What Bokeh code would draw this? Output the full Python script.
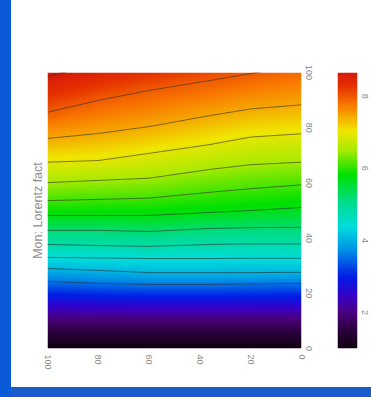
import numpy as np
from bokeh.plotting import figure
from bokeh.layouts import row, column
from bokeh.models import (Range1d, LinearAxis, FixedTicker, LinearColorMapper, Title)
from bokeh.embed import file_html
from bokeh.resources import INLINE

# ---- data ----
title_text = "Mon: Lorentz fact"
levels = [3.57, 4.06, 4.43, 4.80, 5.23, 5.73, 6.09, 6.48, 6.96, 7.44, 7.96, 8.62]
# bottom-axis values of the columns where the contour heights were read
column_x = [100, 80, 60, 36, 20, 0]
# height (right-axis value) of every contour level at each column
h_x100 = [24.3, 29.0, 33.0, 37.7, 42.8, 48.2, 53.6, 60.1, 67.5, 76.1, 85.6, 98.6]
h_x80 = [23.6, 28.3, 32.8, 37.3, 42.8, 48.2, 54.0, 60.9, 68.1, 77.9, 89.9, 103.0]
h_x60 = [23.2, 27.5, 32.6, 37.0, 42.4, 48.2, 54.5, 61.7, 70.7, 80.4, 93.5, 107.0]
h_x36 = [23.2, 27.5, 32.6, 37.7, 43.5, 49.3, 56.6, 64.9, 73.9, 84.4, 97.1, 111.0]
h_x20 = [23.4, 27.5, 32.7, 37.9, 43.8, 50.0, 57.9, 66.6, 76.6, 86.8, 99.6, 114.0]
h_x0 = [23.6, 27.6, 32.7, 37.9, 43.9, 51.1, 59.3, 67.5, 77.8, 88.3, 102.9, 118.0]
# values in the dark band below the lowest contour
bottom_h = [0.0, 10.0]
bottom_v = [1.0, 1.9]
# axis ticks / labels
tick_pos = [0, 20, 40, 60, 80, 100]
bottom_labels = ["100", "80", "60", "40", "20", "0"]   # left-to-right
right_labels = ["0", "20", "40", "60", "80", "100"]    # bottom-to-top
cbar_ticks = [2, 4, 6, 8]
cbar_low, cbar_high = 1.0, 8.66

# ---- palette (rainbow, sampled from the colour bar) ----
anch_f = [0.00, 0.07, 0.13, 0.19, 0.26, 0.36, 0.44, 0.53, 0.63, 0.72, 0.79, 0.88, 0.95, 1.00]
anch_r = [15, 45, 75, 55, 0, 0, 0, 0, 0, 170, 240, 250, 230, 215]
anch_g = [0, 0, 0, 0, 30, 150, 220, 220, 225, 235, 230, 125, 50, 25]
anch_b = [15, 65, 130, 200, 230, 230, 220, 140, 0, 0, 0, 0, 0, 10]
ff = np.linspace(0, 1, 256)
palette = ["#%02x%02x%02x" % (int(np.interp(f, anch_f, anch_r)),
                              int(np.interp(f, anch_f, anch_g)),
                              int(np.interp(f, anch_f, anch_b))) for f in ff]

# ---- field grid built from the contour table ----
table = np.array([h_x100, h_x80, h_x60, h_x36, h_x20, h_x0])
cx = np.array(column_x, dtype=float)
order = np.argsort(cx)
nx, ny = 254, 276
us = np.linspace(0, 100, nx)          # screen-left-to-right coordinate
hs = np.linspace(0, 100, ny)
z = np.empty((ny, nx))
for j, u in enumerate(us):
    xv = 100 - u
    hc = [np.interp(xv, cx[order], table[order, k]) for k in range(len(levels))]
    z[:, j] = np.interp(hs, bottom_h + hc, bottom_v + levels)

mapper = LinearColorMapper(palette=palette, low=cbar_low, high=cbar_high)

lab_font = "Liberation Sans"
lab_col = "#8a8a8a"


def style_axis(ax, standoff):
    ax.axis_line_color = None
    ax.major_tick_line_color = None
    ax.minor_tick_line_color = None
    ax.major_label_orientation = "vertical"
    ax.major_label_text_font = lab_font
    ax.major_label_text_font_size = "9px"
    ax.major_label_text_color = lab_col
    ax.major_label_standoff = standoff


p = figure(frame_width=254, frame_height=276, output_backend="svg",
           toolbar_location=None, x_range=Range1d(0, 100), y_range=Range1d(0, 100),
           x_axis_location=None, y_axis_location=None,
           min_border_left=36, min_border_top=72, min_border_bottom=39,
           min_border_right=36)
p.grid.visible = False
p.outline_line_color = None
p.border_fill_color = "white"

p.image(image=[z], x=0, y=0, dw=100, dh=100, color_mapper=mapper)

line_xs = [[100 - x for x in column_x] for _ in levels]
line_ys = [list(col) for col in table.T]
p.multi_line(xs=line_xs, ys=line_ys, line_color="#303030", line_alpha=0.6, line_width=1)

xb = LinearAxis(ticker=FixedTicker(ticks=tick_pos),
                major_label_overrides={t: l for t, l in zip(tick_pos, bottom_labels)})
yr = LinearAxis(ticker=FixedTicker(ticks=tick_pos),
                major_label_overrides={t: l for t, l in zip(tick_pos, right_labels)})
style_axis(xb, 0)
style_axis(yr, -2)
p.add_layout(xb, "below")
p.add_layout(yr, "right")

t = Title(text=title_text, align="center", text_font=lab_font, text_font_size="12.5px",
          text_color="#909090", text_font_style="normal", standoff=5)
p.add_layout(t, "left")

# ---- colour bar as its own small figure ----
pc = figure(frame_width=20, frame_height=276, output_backend="svg",
            toolbar_location=None, x_range=Range1d(0, 1),
            y_range=Range1d(cbar_low, cbar_high),
            x_axis_location=None, y_axis_location=None,
            min_border_left=0, min_border_top=72, min_border_bottom=39,
            min_border_right=14)
pc.grid.visible = False
pc.outline_line_color = None
pc.border_fill_color = "white"
grad = np.linspace(cbar_low, cbar_high, 256).reshape(256, 1)
pc.image(image=[grad], x=0, y=cbar_low, dw=1, dh=cbar_high - cbar_low, color_mapper=mapper)
cr = LinearAxis(ticker=FixedTicker(ticks=cbar_ticks))
style_axis(cr, -2)
pc.add_layout(cr, "right")

inner = row(p, pc, styles={"background-color": "white"})
layout = column(inner, styles={
    "background": "linear-gradient(to right, #0b5ad8 0px, #0b5ad8 11px, transparent 11px), "
                  "linear-gradient(to bottom, white 0px, white 387px, #1a5ccc 387px)",
    "padding-top": "0px", "padding-right": "0px",
    "padding-bottom": "10px", "padding-left": "11px"})

open("out.html", "w").write(file_html(layout, INLINE))
